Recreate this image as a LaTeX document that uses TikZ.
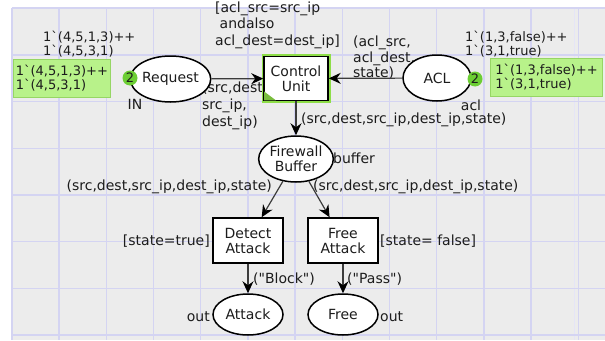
\documentclass[tikz,border=0pt]{standalone}
\usepackage{fontspec}
\setmainfont{DejaVu Sans}[Ligatures=TeXOff]
\usetikzlibrary{shapes.geometric,arrows.meta}

\definecolor{paper}{RGB}{236,236,236}
\definecolor{gridline}{RGB}{212,212,242}
\definecolor{ink}{RGB}{28,28,28}
\definecolor{arcgrey}{RGB}{60,60,60}
\definecolor{markfill}{RGB}{184,242,138}
\definecolor{markedge}{RGB}{150,214,100}
\definecolor{tokenfill}{RGB}{108,206,52}
\definecolor{enabled}{RGB}{142,222,72}

\pgfdeclarelayer{sheet}
\pgfdeclarelayer{inscriptions}
\pgfsetlayers{sheet,inscriptions,main}

\begin{document}
\begin{tikzpicture}[x=1pt, y=-1pt,
  font=\fontsize{14}{15}\selectfont, text=ink,
  place/.style={ellipse, draw=black, line width=1.5pt, fill=white,
    inner sep=0pt, align=center},
  trans/.style={rectangle, draw=black, line width=1.5pt, fill=white,
    inner sep=0pt, align=center},
  transon/.style={trans, preaction={draw=enabled, line width=5pt}},
  token/.style={circle, fill=tokenfill, inner sep=0pt, minimum size=15pt,
    font=\fontsize{13}{13}\selectfont},
  marking/.style={rectangle, fill=markfill, draw=markedge, line width=0.6pt,
    inner ysep=0pt, minimum height=38pt, align=left,
    font=\fontsize{13}{14}\selectfont},
  marklabel/.style={inner sep=0pt, align=left,
    font=\fontsize{13}{14}\selectfont},
  inscr/.style={inner sep=0pt, align=left},
  arc/.style={draw=arcgrey, line width=1.2pt,
    -{Stealth[length=12pt, width=11pt, inset=4pt, color=black]}}]

\useasboundingbox (0,0) rectangle (605,340);
\clip (0,0) rectangle (605,340);

% drawing sheet with its grid
\begin{pgfonlayer}{sheet}
  \fill[white] (0,0) rectangle (605,340);
  \fill[paper] (11.8,8.1) rectangle (605,340);
  \foreach \k in {0,...,12}
    \draw[gridline, line width=1.4pt] ({11.8+47.2*\k},8.1) -- ({11.8+47.2*\k},340);
  \draw[gridline!60, line width=1pt] (574.5,8.1) -- (574.5,340);
  \foreach \k in {0,...,7}
    \draw[gridline, line width=1.4pt] (11.8,{8.1+46.7*\k}) -- (605,{8.1+46.7*\k});
\end{pgfonlayer}

% places and transitions
\node[place, minimum width=67pt, minimum height=46pt] (req) at (170.5,79) {Request};
\node[transon, minimum width=64pt, minimum height=44pt] (cu) at (296,78.5) {Control\\Unit};
\node[place, minimum width=68pt, minimum height=46pt] (acl) at (437,78) {ACL};
\node[place, minimum width=66pt, minimum height=46pt] (fb) at (296,159) {Firewall\\Buffer};
\node[trans, minimum width=70pt, minimum height=45pt] (det) at (248,240.5) {Detect\\Attack};
\node[trans, minimum width=70pt, minimum height=45pt] (fre) at (343,240.5) {Free\\Attack};
\node[place, minimum width=70pt, minimum height=41pt] (att) at (248,314.5) {Attack};
\node[place, minimum width=70pt, minimum height=41pt] (freep) at (343,314.5) {Free};

% enabled marker of the transition
\fill[enabled!85!black] ([shift={(0.8,-0.8)}]cu.south west) -- +(12,0) -- +(0,-9) -- cycle;

% tokens and current markings
\node[token] (reqtok) at (130,78) {2};
\node[token] (acltok) at (475,79) {2};
\node[marking, anchor=west, inner xsep=2.5pt] (reqmark) at (13,78)
  {1`(4,5,1,3)++\\1`(4,5,3,1)};
\node[marking, anchor=west, inner xsep=5pt] (aclmark) at (490,77.5)
  {1`(1,3,false)++\\1`(3,1,true)};

% arcs
\draw[arc] (req) -- (cu);
\draw[arc] (acl) -- (cu);
\draw[arc] (cu) -- (fb);
\draw[arc] (fb) -- (det);
\draw[arc] (fb) -- (fre);
\draw[arc] (det) -- (att);
\draw[arc] (fre) -- (freep);

% inscriptions, guards, initial markings and port tags
\begin{pgfonlayer}{inscriptions}
  \node[inscr, anchor=west, font=\fontsize{14}{16.5}\selectfont] (guardcu) at (215,25)
    {[acl\_src=src\_ip\\\hspace*{4.5pt}andalso\\acl\_dest=dest\_ip]};
  \node[marklabel, anchor=west] (reqinit) at (43,44) {1`(4,5,1,3)++\\1`(4,5,3,1)};
  \node[marklabel, anchor=west] (aclinit) at (465,44) {1`(1,3,false)++\\1`(3,1,true)};
  \node[inscr] (reqport) at (135,104) {IN};
  \node[inscr] (aclname) at (471,105) {acl};
  \node[inscr, anchor=west, font=\fontsize{14}{17}\selectfont] (reqarc) at (202,106)
    {(src,dest,\\src\_ip,\\dest\_ip)};
  \node[inscr, anchor=west, font=\fontsize{14}{15.5}\selectfont] (aclarc) at (353,58)
    {(acl\_src,\\acl\_dest,\\state)};
  \node[inscr, anchor=west] (cuarc) at (301,120) {(src,dest,src\_ip,dest\_ip,state)};
  \node[inscr, anchor=west] (fbname) at (333,158) {buffer};
  \node[inscr, anchor=east] (detarc) at (272,187) {(src,dest,src\_ip,dest\_ip,state)};
  \node[inscr, anchor=west] (frearc) at (313,187) {(src,dest,src\_ip,dest\_ip,state)};
  \node[inscr, anchor=east] (detguard) at (210,241) {[state=true]};
  \node[inscr, anchor=west] (freguard) at (380,241) {[state= false]};
  \node[inscr, anchor=west] (blockarc) at (253,279) {("Block")};
  \node[inscr, anchor=west] (passarc) at (347,279) {("Pass")};
  \node[inscr, anchor=east] (attport) at (210,317) {out};
  \node[inscr, anchor=west] (freport) at (380,317) {out};
\end{pgfonlayer}

\end{tikzpicture}
\end{document}
